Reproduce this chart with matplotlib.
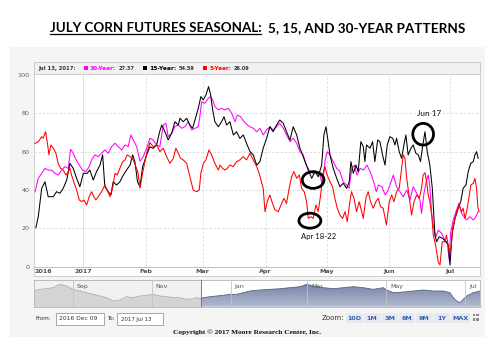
import numpy as np
import matplotlib
matplotlib.use("Agg")
import matplotlib.pyplot as plt
from matplotlib.patches import Rectangle, Ellipse
from matplotlib.lines import Line2D
from matplotlib.colors import LinearSegmentedColormap

# ---------------- data (x = days since 2017-01-01) ----------------
days_30 = [-23.6, -22, -20.3, -18.7, -17.1, -15.4, -13.8, -12.2, -10.5, -8.9,
           -7.2, -6.1, -4.8, -3.4, -1.8, -0.2, 1.5, 3.1, 4.3, 5.9,
           7.5, 9.2, 10.8, 12.5, 14.1, 15.8, 17.4, 19.1, 20.7, 22.3,
           23.6, 24.8, 26.5, 28.1, 29.7, 31.4, 33, 34.6, 36.3, 37.9,
           39.6, 40.9, 42, 43.7, 45.3, 47, 48.6, 50.2, 51.9, 53.5,
           55.2, 56.8, 57.6, 58.5, 60.1, 61.7, 62.9, 63.9, 65, 66.7,
           68.3, 70, 71.6, 73.3, 74.9, 76.1, 77.7, 79.4, 81, 82.3,
           83.9, 85.6, 87.2, 88.8, 90.5, 92.1, 93.7, 95.4, 97, 98.7,
           100.3, 102, 103.6, 105.3, 106.9, 108.5, 110.1, 111.8, 113.4, 115.1,
           116.7, 118, 119.2, 120.3, 121.7, 123.3, 125, 126.6, 128.2, 129.9,
           131.1, 132.5, 133.7, 135, 136.6, 138.2, 139.9, 141.5, 143.2, 144.5,
           145.6, 147.3, 148.9, 150.4, 152.1, 152.9, 154.5, 156.2, 157.8, 159.5,
           161.1, 162.7, 164.4, 166, 166.8, 168, 169.3, 170.1, 170.9, 171.8,
           172.6, 173.9, 175, 176.7, 178.3, 179.5, 180.4, 181.1, 182.4, 184.1,
           185.2, 186.5, 187.7, 189, 190.6, 192.3, 193.1, 194.7]
vals_30 = [39.1, 46.1, 48.7, 51.3, 50.4, 50.4, 48.7, 47.8, 50.4, 52.2,
           51.3, 61.2, 59.2, 55.7, 53, 50.4, 49.6, 52.2, 55.7, 58.3,
           57.4, 59.2, 60.9, 59.2, 62.6, 64.4, 62.6, 60.9, 63.5, 62.6,
           68.7, 66.1, 62.6, 55, 57.4, 61.8, 67, 66.1, 63.5, 62.6,
           73.9, 74.8, 67.8, 69.6, 73, 73.9, 72.2, 73, 75.6, 71.3,
           72.2, 73, 78.2, 86.1, 85.2, 87.8, 88.7, 87, 83.5, 81.8,
           82.6, 81.8, 82.6, 80, 75.6, 79.1, 78.2, 75.6, 73.9, 73,
           72.2, 70.4, 72.2, 68.7, 71.3, 73, 71.3, 73, 74.8, 72.2,
           68.7, 65.2, 67, 64.4, 60, 58.3, 53, 49.6, 48.7, 49.6,
           47.8, 42.6, 54.8, 60, 58.3, 54.8, 51.3, 49.6, 44.3, 42.6,
           40.9, 51.3, 53, 47.8, 51.3, 50.4, 53, 49.6, 44.3, 39.1,
           42.6, 41.7, 37.4, 40, 45.2, 47.8, 41.7, 39.1, 36.5, 40,
           34.8, 41.7, 38.3, 34.8, 27.8, 38.3, 45.2, 47.8, 41.7, 27.8,
           20.9, 15.6, 19.1, 17.4, 13.9, 12.2, 3.5, 17.4, 24.4, 29.6,
           33.1, 27.8, 26.1, 24.4, 26.1, 24.4, 25.2, 28.7]

days_15 = [-23.2, -22, -20.3, -18.7, -17.1, -14.6, -13, -11.3, -9.7, -8,
           -6.4, -4.8, -3.1, -1.5, 0.2, 2.1, 3.4, 5.1, 6.7, 8.4,
           9.7, 10.8, 12.5, 13.8, 14.9, 16.6, 18.2, 19.9, 21.5, 23.2,
           24.5, 25.6, 26.9, 28.1, 29.4, 31.4, 33, 34.6, 36.3, 37.6,
           38.8, 40.4, 42, 43.7, 45.3, 47, 47.8, 49.4, 51.1, 52.7,
           54, 55.2, 56.8, 58.1, 59.3, 60.6, 61.9, 62.9, 63.9, 65,
           66.7, 68.3, 69.5, 70.8, 72.4, 74.1, 75.7, 77.3, 79, 80.6,
           82.3, 83.9, 85.6, 87.2, 88.8, 90.5, 92.1, 93.7, 95.4, 97,
           98.7, 100.3, 102, 103.6, 105.3, 106.9, 108.2, 109.4, 111, 112.7,
           114.3, 115.9, 117.6, 118.7, 119.7, 120.8, 121.7, 123.3, 125, 126.6,
           128.2, 129.9, 131.2, 132, 133.2, 134.5, 135.6, 136.9, 138.1, 138.9,
           139.7, 141.4, 142.7, 143.8, 145.2, 146.3, 147.6, 148.8, 149.9, 151.2,
           152.6, 153.7, 154.5, 155.8, 157, 158.1, 159.1, 160.2, 161.6, 162.7,
           164, 165.2, 166.3, 167.3, 168.5, 169.6, 170.9, 172.1, 173.4, 174.2,
           175.5, 177.2, 178.8, 180, 180.8, 181.9, 183.3, 184.9, 186.1, 187.3,
           188.7, 189.8, 191, 192.3, 193.1, 193.9, 194.7]
vals_15 = [20.3, 26.1, 40.9, 44.3, 36.5, 36.5, 39.1, 38.3, 40.9, 45.2,
           53.9, 51.3, 46.1, 41.7, 48.7, 48.7, 50.4, 45.2, 49.6, 53,
           58.3, 41.7, 39.1, 37.4, 44.3, 42.6, 44.3, 47.8, 50.4, 53,
           58.3, 54.8, 44.3, 41.7, 52.1, 58.3, 62.6, 61.7, 63.5, 69.6,
           73.9, 70.4, 66.1, 69.6, 75.6, 73.9, 77.4, 75.6, 77.4, 73.9,
           72.2, 76.5, 82.6, 88.7, 87, 89.6, 93.9, 89.6, 81.8, 75.6,
           73, 75.6, 78.2, 73.9, 75.6, 68.7, 70.4, 66.9, 68.7, 64.3,
           60, 58.3, 53, 54.8, 61.8, 67, 73, 70.4, 73.9, 76.5,
           74.8, 70.4, 66.1, 73, 68.7, 61.8, 58.3, 54.8, 50.4, 46.1,
           49.6, 46.9, 53, 68.7, 73, 65.2, 58.3, 51.3, 46.1, 41.7,
           43.5, 40.9, 44.3, 54.8, 48.7, 53, 49.6, 65.2, 62.6, 54.8,
           63.5, 61.8, 65.2, 54.8, 66.1, 65.2, 58.3, 53, 63.5, 67.8,
           67, 63.5, 67, 60, 56.5, 63.5, 68.7, 58.3, 61.8, 63.5,
           59.2, 58.3, 54.8, 62.6, 70.4, 60, 53, 40.9, 16.5, 13,
           15.6, 14.8, 13, 11.3, 0.9, 17.4, 25.2, 30.5, 33.9, 40.9,
           42.6, 49.6, 53.9, 54.8, 58.3, 60, 56.5]

days_5 = [-23.6, -22, -20.3, -19.6, -18.4, -17.6, -16.7, -15.8, -14.6, -13.3,
          -12.2, -11, -9.7, -8.4, -7.2, -6.4, -5.6, -4.3, -3.1, -1.8,
          -0.6, 0.5, 1.8, 3.1, 4.3, 5.4, 6.4, 7.5, 9.2, 10.8,
          12, 13.3, 14.6, 15.8, 16.9, 18.2, 19.6, 20.7, 21.8, 23.2,
          24.8, 26.1, 27.2, 28.1, 29.7, 31.4, 33, 34.6, 36.3, 37.9,
          39.6, 41.2, 42.9, 44.5, 45.8, 47, 48.1, 49.4, 51.1, 51.9,
          53.1, 54.3, 56, 57.3, 58.1, 59.3, 60.6, 62.1, 63.4, 65,
          66.7, 67.5, 68.8, 70, 71.1, 72.4, 74, 75.7, 77.3, 79,
          80.6, 82.3, 83.9, 85.6, 86.8, 88.8, 89.7, 90.8, 92.1, 93.4,
          94.6, 96.2, 97.9, 99, 100.3, 101.6, 102.8, 103.9, 105.3, 106.6,
          107.7, 109, 110.2, 111, 112.2, 113.4, 114.8, 115.9, 117.1, 118.1,
          119.2, 120.3, 121.7, 123, 124.1, 125.3, 126.6, 127.9, 129.1, 130.2,
          131.5, 132.3, 133.5, 134.8, 136.1, 137.3, 138.1, 139.4, 140.5, 141.7,
          143, 144.3, 145.5, 146.6, 147.9, 149.5, 150.9, 152.1, 153.2, 154.5,
          155.8, 157, 157.8, 158.6, 159.5, 160.8, 161.9, 163.1, 164.4, 165.7,
          166.8, 167.6, 168.5, 169.3, 170.1, 170.9, 171.8, 172.6, 173.7, 175,
          175.9, 177, 178.3, 179.1, 180.4, 181.3, 182.1, 183.3, 184.1, 185.4,
          186.5, 187.3, 188.2, 189, 190.1, 191.1, 192.3, 193.1, 193.9, 194.6,
          195.2]
vals_5 = [64.3, 65.2, 67.8, 67, 70.4, 65.2, 58.3, 63.5, 61.8, 59.2,
          53.9, 51.3, 50.4, 47.8, 49.6, 51.3, 47.8, 43.5, 40, 34.8,
          33.9, 34.8, 32.2, 36.5, 39.1, 36.5, 34.8, 36.5, 39.1, 42.6,
          40, 36.5, 40.9, 48.7, 47.8, 51.3, 54.8, 55.7, 58.3, 57.4,
          55.7, 52.2, 48.7, 41, 50.4, 59.2, 64.7, 62.6, 63.5, 60,
          61.8, 57.4, 53.9, 56.5, 61.8, 59.2, 56.5, 55.7, 53.9, 50.4,
          45.2, 40, 39.1, 40, 48.7, 53.9, 55.7, 60.9, 58.3, 53.9,
          50.4, 53, 51.3, 50.4, 51.3, 53, 52.2, 54.8, 55.7, 57.4,
          55.7, 59.2, 55.7, 52.2, 48.7, 40.9, 28.7, 33.9, 37.4, 33,
          29.6, 28.7, 33, 35.7, 33, 40.9, 46.9, 49.6, 46.1, 47.8,
          40.9, 39.1, 33.9, 25.2, 26.1, 25.2, 32.2, 28.7, 37.4, 47.8,
          52.2, 47.8, 44.3, 41.7, 35.7, 30.5, 27, 25.2, 28.7, 23.5,
          33.9, 39.1, 35.7, 28.7, 33.9, 28.7, 25.2, 35.7, 39.1, 33.9,
          30.5, 33.9, 35.7, 31.3, 30.5, 21.8, 33.9, 37.4, 33.9, 39.1,
          40.9, 51.3, 58.3, 56.5, 46.1, 35.7, 27, 33.9, 37.4, 35.7,
          40.9, 47.8, 49, 44.3, 37.4, 33.9, 27, 16.5, 11.3, 2.6,
          0.9, 13, 13, 16.5, 7.8, 9.6, 20, 25.2, 28.7, 32.2,
          28.7, 30.5, 25.2, 28.7, 35.7, 42.6, 43.5, 46.1, 40.9, 30.5,
          28.7]

nav_days = [-152, -147.5, -142.3, -137.2, -132, -126.9, -121.8, -116.6, -111.4, -106.3,
            -101.2, -96, -90.9, -85.7, -80.5, -75.4, -70.3, -65.1, -60, -54.8,
            -49.7, -44.6, -39.4, -34.2, -29.1, -26.5, -22.6, -21.4, -16.2, -11,
            -5.9, -0.8, 4.4, 9.5, 14.7, 22.4, 30.1, 37.8, 45.6, 53.3,
            58.5, 63.6, 71.4, 79.1, 86.8, 94.5, 102.2, 109.9, 117.6, 120.2,
            125.4, 133.1, 140.8, 148.5, 156.2, 164, 169.1, 171.7, 174.3, 176.8,
            179.4, 182, 187.1, 192.3]
nav_vals = [58.8, 65, 67.4, 71.2, 83.9, 77.5, 65, 58.8, 52.4, 46.4,
            40.1, 33.7, 21.3, 25.1, 37.5, 33.7, 40.1, 42.7, 46.4, 40.1,
            37.5, 33.7, 33.7, 27.7, 30, 33.7, 30, 33.7, 37.5, 40.1,
            42.7, 46.4, 46.4, 52.4, 58.8, 62.5, 65, 67.4, 71.2, 74.9,
            83.9, 77.5, 71.2, 67.4, 71.2, 74.9, 71.2, 65, 71.2, 62.5,
            52.4, 55, 58.8, 62.5, 58.8, 58.8, 52.4, 33.7, 21.3, 15,
            27.7, 40.1, 52.4, 58.8]

x_tick_days = [-19.7, 0, 31, 59, 90, 120, 151, 181]
x_tick_labels = ["2016", "2017", "Feb", "Mar", "Apr", "May", "Jun", "Jul"]
grid_days = [0, 31, 59, 90, 120, 151, 181]
y_ticks = [0, 20, 40, 60, 80, 100]
nav_month_days = [-122, -61, 0, 59, 120, 181]
nav_month_labels = ["Sep", "Nov", "Jan", "Mar", "May", "Jul"]
legend_date = "Jul 13, 2017:"
legend_names = ["30-Year:", "15-Year:", "5-Year:"]
legend_values = ["27.37", "54.59", "26.09"]
zoom_buttons = ["10D", "1M", "3M", "6M", "9M", "1Y", "MAX"]

MAG, BLK, RED = "#ff00ff", "#000000", "#ff0000"

# ---------------- figure helpers ----------------
W, H = 504, 348
fig = plt.figure(figsize=(W / 100, H / 100), dpi=100)
fig.patch.set_facecolor("white")
renderer = fig.canvas.get_renderer()


def frect(x0, y0, x1, y1):
    return [x0 / W, 1 - y1 / H, (x1 - x0) / W, (y1 - y0) / H]


def box(x0, y0, x1, y1, fc, ec="none", lw=0.6, z=0):
    r = Rectangle((x0 / W, 1 - y1 / H), (x1 - x0) / W, (y1 - y0) / H,
                  transform=fig.transFigure, facecolor=fc, edgecolor=ec,
                  linewidth=lw, zorder=z)
    fig.add_artist(r)
    return r


def fit(t, width):
    bb = t.get_window_extent(renderer=renderer)
    t.set_fontsize(t.get_fontsize() * width / bb.width)
    return t


def ftext(x, y, s, width=None, size=5, **kw):
    t = fig.text(x / W, 1 - y / H, s, fontsize=size, **kw)
    if width:
        fit(t, width)
    return t


# ---------------- background panels ----------------
box(10, 47, 485, 337, "#f5f5f5", z=-5)
box(34, 62, 480, 276, "white", "#c8c8c8", 0.6, z=-4)
box(34, 62, 480, 73.5, "#f1f1f1", "#c8c8c8", 0.6, z=-3)

# ---------------- title ----------------
tfam = ["Lato", "DejaVu Sans"]
t1 = ftext(50, 32.3, "JULY CORN FUTURES SEASONAL:", width=211, size=11,
           ha="left", va="baseline", weight="bold", family=tfam, color="black")
t2 = ftext(268.3, 32.3, "5, 15, AND 30-YEAR PATTERNS", width=196, size=11,
           ha="left", va="baseline", weight="bold", family=tfam, color="black")
fig.add_artist(Line2D([50 / W, 261 / W], [1 - 34.2 / H, 1 - 34.2 / H],
                      transform=fig.transFigure, color="black", lw=0.9))

# ---------------- legend bar ----------------
ly = 68.2
ftext(38.3, ly, legend_date, width=37.4, ha="left", va="center",
      weight="bold", color="#333333")
sq_x = [84, 143.3, 203.3]
name_x = [90, 149.5, 209.5]
name_w = [26, 27, 22]
val_x = [118.3, 179, 234]
for c, sx, nx, nw, vx, nm, vv in zip([MAG, BLK, RED], sq_x, name_x, name_w,
                                      val_x, legend_names, legend_values):
    box(sx, 66.2, sx + 3.6, 69.8, c, z=2)
    ftext(nx, ly, nm, width=nw, ha="left", va="center", weight="bold", color=c)
    ftext(vx, ly, vv, width=16, ha="left", va="center", weight="bold",
          color="#333333")

# ---------------- main chart ----------------
ax = fig.add_axes(frect(34, 74, 480, 266.7))
ax.set_facecolor("none")
ax.set_xlim(-24.1, 195.6)
ax.set_ylim(0, 100.5)
for s in ["top", "right", "left"]:
    ax.spines[s].set_visible(False)
ax.spines["bottom"].set_color("#c0c0c0")
ax.spines["bottom"].set_linewidth(0.7)
ax.tick_params(length=0)
ax.set_yticks(y_ticks)
ax.set_yticklabels([str(v) for v in y_ticks], fontsize=4.6, color="#606060")
ax.tick_params(axis="y", pad=3.2)
ax.set_xticks(x_tick_days)
ax.set_xticklabels(x_tick_labels, fontsize=4.6, color="#505050", fontweight="bold")
ax.tick_params(axis="x", pad=1.6)

for yv in y_ticks[1:-1]:
    ax.axhline(yv, color="#d9d9d9", lw=0.6, ls=(0, (3, 2)), zorder=0)
for i, gd in enumerate(grid_days):
    ax.axvline(gd, color="#dadada", lw=0.6, ls="-" if i == 0 else (0, (3, 2)),
               zorder=0)

ax.plot(days_30, vals_30, color=MAG, lw=0.75, zorder=2)
ax.plot(days_15, vals_15, color=BLK, lw=0.75, zorder=3)
ax.plot(days_5, vals_5, color=RED, lw=0.75, zorder=4)

for (cx, cy, ew, eh) in [(113.4, 45.2, 10.7, 8.7), (111.8, 24.0, 10.8, 7.8),
                         (167.6, 69.1, 10.2, 11.3)]:
    ax.add_patch(Ellipse((cx, cy), ew, eh, fill=False, edgecolor="black",
                         lw=2.0, zorder=6, clip_on=False))
afam = ["Lato", "DejaVu Sans"]
fit(ax.text(116.3, 15.5, "Apr 18-22", ha="center", va="center", fontsize=6,
            family=afam, color="#111111", zorder=7), 35.7)
fit(ax.text(170.4, 80.0, "Jun 17", ha="center", va="center", fontsize=6,
            family=afam, color="#111111", zorder=7), 24)

# ---------------- navigator ----------------
nav = fig.add_axes(frect(34, 280, 480, 306.7))
nav.set_xticks([])
nav.set_yticks([])
for s in nav.spines.values():
    s.set_color("#b4b4b4")
    s.set_linewidth(0.6)
split = -23
d = np.array(nav_days)
v = np.array(nav_vals)
vs = np.interp(split, d, v)
ld = np.r_[d[d < split], split]
lv = np.r_[v[d < split], vs]
rd = np.r_[split, d[d > split]]
rv = np.r_[vs, v[d > split]]
nav.axvspan(-152, split, color="#f1f1f1", zorder=0, lw=0)
nav.fill_between(ld, 0, lv, color="#d4d4d4", lw=0, zorder=1)
nav.plot(ld, lv, color="#ababab", lw=0.6, zorder=2)
poly = nav.fill_between(rd, 0, rv, color="none", lw=0)
grad = np.linspace(0, 1, 100).reshape(-1, 1)
cmap = LinearSegmentedColormap.from_list("g", ["#b3bbd1", "#6e7ba0"])
im = nav.imshow(grad, extent=[split, 192.3, 0, 100], origin="lower",
                cmap=cmap, aspect="auto", zorder=1)
im.set_clip_path(poly.get_paths()[0], transform=nav.transData)
nav.plot(rd, rv, color="#56648c", lw=0.6, zorder=2)
for md, lab in zip(nav_month_days, nav_month_labels):
    nav.axvline(md, color="#c4c4c4", lw=0.6, zorder=3)
    nav.text(md + 3.0, 77, lab, fontsize=4.5, color="#555555", va="center",
             zorder=4)
nav.axvline(split, color="#7a7a7a", lw=0.7, zorder=5)
nav.set_xlim(-152, 192.3)
nav.set_ylim(0, 100)

# ---------------- range selector ----------------
ry = 319
ftext(36, ry, "From:", width=15.7, ha="left", va="center", color="#333333")
box(56, 312.7, 104, 325.3, "white", "#9a9a9a", 0.6, z=1)
ftext(59.3, ry, "2016 Dec 09", width=39, ha="left", va="center", color="#333333")
ftext(107.3, ry, "To:", width=7.7, ha="left", va="center", color="#333333")
box(117.3, 312.7, 163.3, 325.3, "white", "#9a9a9a", 0.6, z=1)
ftext(120.7, ry, "2017 Jul 13", width=31, ha="left", va="center", color="#333333")

ftext(344, 318, "Zoom:", width=22.6, ha="right", va="center", color="#333333")
bx = [(345.5, 362.5), (363.5, 380.5), (381.5, 397.5), (398.5, 415),
      (416, 432.5), (433.5, 449.5), (450.5, 470)]
for (x0, x1), lab in zip(bx, zoom_buttons):
    box(x0, 312.7, x1, 322.7, "#e6e9ef", "none", z=1)
    ftext((x0 + x1) / 2, 318, lab, size=4.6, ha="center", va="center",
          weight="bold", color="#3a62b0")
for (ix, iy) in [(472.5, 313.5), (476, 313.5), (472.5, 318), (476, 318)]:
    box(ix, iy, ix + 2.5, iy + 2.8, "#8a8a8a", z=1)

# ---------------- copyright ----------------
ftext(247.5, 332, "Copyright \u00a9 2017 Moore Research Center, Inc.", width=149,
      size=6, ha="center", va="center", weight="bold",
      family=["Liberation Serif", "DejaVu Serif"], color="#111111")

fig.savefig("out.png", dpi=100, facecolor="white")
